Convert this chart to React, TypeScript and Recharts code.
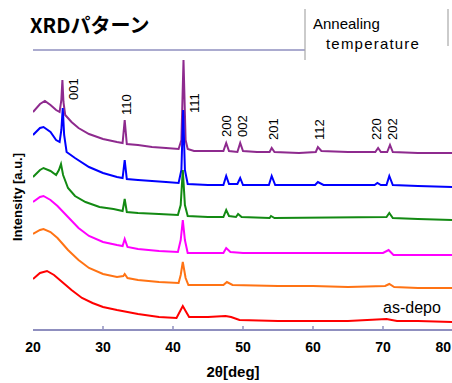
import { LineChart, Line, XAxis, YAxis, ReferenceLine, ReferenceDot } from 'recharts'

// 2θ [deg], intensity [a.u., stacked offsets]
const purple: [number, number][] = [
  [20, 218], [21, 226], [21.7, 229], [22.5, 225], [23.3, 220], [23.8, 218],
  [24.05, 230], [24.2, 250], [24.35, 228], [24.6, 215], [25.5, 208], [26.5, 202],
  [28, 196], [30, 191], [32, 188], [32.8, 187], [33.1, 210], [33.4, 186],
  [35, 185], [37, 183], [39, 182], [40.8, 181], [41.2, 190], [41.5, 270],
  [41.8, 190], [42.1, 181], [43, 179], [45, 179], [47.2, 179], [47.6, 187],
  [48, 179], [49.2, 178], [49.6, 187], [50, 179], [52, 178], [53.8, 178],
  [54.1, 182], [54.5, 178], [58, 177], [60.4, 178], [60.7, 183], [61.2, 179],
  [65, 178], [68.9, 178], [69.3, 182], [69.7, 178], [70.6, 178], [71, 185],
  [71.4, 178], [75, 177], [80, 177],
]

const blue: [number, number][] = [
  [20, 195], [21, 202], [21.5, 203], [22.5, 198], [23.3, 190], [23.8, 188],
  [24.05, 200], [24.25, 222], [24.45, 195], [24.8, 178], [26, 172], [28, 163],
  [30, 157], [32, 153], [32.8, 152], [33.1, 170], [33.4, 151], [35, 150],
  [37, 149], [39, 148], [40.8, 147], [41.2, 160], [41.45, 220], [41.7, 160],
  [42.1, 146], [45, 145], [47.2, 145], [47.6, 154], [48, 146], [49.2, 146],
  [49.6, 152], [50, 145], [53.7, 145], [54.1, 154], [54.6, 145], [60.3, 145],
  [60.7, 148], [61.5, 145], [68.8, 145], [69.2, 147], [69.7, 145], [70.5, 145],
  [70.9, 154], [71.4, 145], [75, 144], [80, 143],
]

const green: [number, number][] = [
  [20, 153], [21, 160], [21.5, 162], [22.5, 159], [23.3, 155], [23.7, 160],
  [24, 166], [24.3, 155], [25, 142], [26, 134], [27.5, 128], [29.5, 123],
  [31.5, 121], [32.8, 119], [33.1, 131], [33.4, 118], [35, 117], [38, 116],
  [40.7, 115], [41.1, 125], [41.4, 160], [41.7, 125], [42.1, 114], [45, 113],
  [47.2, 113], [47.6, 120], [48, 114], [49, 113], [49.3, 116], [49.8, 113],
  [53.8, 112], [54, 114], [54.5, 112], [70.5, 113], [70.9, 117], [71.4, 112],
  [75, 111], [80, 110],
]

const magenta: [number, number][] = [
  [20, 128], [21, 133], [21.5, 134], [22.5, 130], [23.5, 124], [25, 113],
  [26.5, 102], [28, 94], [30, 88], [32, 85], [32.8, 84], [33.1, 91],
  [33.5, 83], [35, 81], [38, 79], [40.7, 78], [41.1, 90], [41.4, 110],
  [41.7, 90], [42.1, 77], [45, 77], [47.2, 77], [47.6, 82], [48.2, 78],
  [50, 77], [60, 77], [65, 77], [70, 77], [70.8, 80], [71.5, 75],
  [75, 75], [80, 75],
]

const orange: [number, number][] = [
  [20, 96], [21, 100], [21.5, 101], [22.5, 98], [23.5, 92], [25, 80],
  [26.5, 70], [28, 62], [30, 56], [32, 53], [32.9, 54], [33.1, 56],
  [33.5, 52], [35, 50], [38, 48], [40.8, 47], [41.1, 55], [41.4, 68],
  [41.8, 52], [42.2, 45], [45, 45], [47.2, 45], [47.7, 48], [48.5, 45],
  [55, 44], [60, 44], [65, 43], [70.3, 44], [70.9, 46], [71.6, 43],
  [75, 42], [80, 42],
]

const asDepo: [number, number][] = [
  [20, 51], [21, 57], [22, 59], [23, 55], [24, 49], [25.5, 40],
  [27, 32], [28.5, 27], [30, 23], [32, 20], [35, 16], [38, 13],
  [40.5, 12], [41.1, 20], [41.4, 24], [41.8, 19], [42.3, 13], [45, 13],
  [47.5, 14], [48.3, 13], [49.5, 10], [55, 9], [60, 9], [65, 9],
  [70.5, 11], [72, 9], [75, 9], [80, 8],
]

const peakLabels = [
  { hkl: '001', x: 25.8, y: 230 },
  { hkl: '110', x: 33.4, y: 215 },
  { hkl: '111', x: 43.1, y: 217 },
  { hkl: '200', x: 47.6, y: 193 },
  { hkl: '002', x: 49.9, y: 193 },
  { hkl: '201', x: 54.3, y: 190 },
  { hkl: '112', x: 60.9, y: 190 },
  { hkl: '220', x: 69.1, y: 190 },
  { hkl: '202', x: 71.4, y: 190 },
]

const xTicks = [20, 30, 40, 50, 60, 70, 80]

// drawn first -> last (as-depo on top)
const series = [
  { name: 'T5', color: '#8e2a8e', points: purple },
  { name: 'T4', color: '#0000ff', points: blue },
  { name: 'T3', color: '#138a13', points: green },
  { name: 'T2', color: '#ff00ff', points: magenta },
  { name: 'T1', color: '#ff7314', points: orange },
  { name: 'as-depo', color: '#ff0000', points: asDepo },
]

const axisColor = '#8f8fbf'
const sans = '"Liberation Sans", Arial, sans-serif'

const toRows = (pts: [number, number][]) => pts.map(([x, y]) => ({ x, y }))

const XTick = ({ x, y, payload }: any) => {
  const last = payload.value === 80
  return (
    <g>
      {payload.value > 20 && !last && (
        <line x1={x} x2={x} y1={y} y2={y - 4} stroke={axisColor} strokeWidth={1.5} />
      )}
      <text x={last ? 451 : x} y={y + 17} textAnchor={last ? 'end' : 'middle'} dominantBaseline="central"
        fontSize={14} fontWeight="bold" fontFamily={sans} fill="#000">
        {payload.value}
      </text>
    </g>
  )
}

const peakShape = (text: string) => (props: any) => (
  <text x={props.cx} y={props.cy} transform={`rotate(-90 ${props.cx} ${props.cy})`}
    dominantBaseline="central" fontSize={13} fontFamily={sans} fill="#000">
    {text}
  </text>
)

export default function App() {
  return (
    <div style={{ position: 'absolute', left: 0, top: 0, width: 452, height: 383, overflow: 'hidden', background: '#fff' }}>
      <LineChart width={470} height={383} margin={{ top: 50, right: 17, left: 33, bottom: 23 }}>
        <XAxis type="number" dataKey="x" domain={[20, 80]} ticks={xTicks} height={30}
          allowDataOverflow stroke={axisColor} strokeWidth={2}
          tickLine={false} tickSize={0} tickMargin={0} tick={<XTick />} />
        <YAxis type="number" dataKey="y" domain={[0, 280]} width={0} tick={false}
          allowDataOverflow stroke={axisColor} strokeWidth={2} tickLine={false} />
        <ReferenceLine segment={[{ x: 20, y: 280 }, { x: 58.86, y: 280 }]} stroke={axisColor} strokeWidth={1.5} />
        {series.map((s) => (
          <Line key={s.name} data={toRows(s.points)} dataKey="y" name={s.name} type="linear"
            stroke={s.color} strokeWidth={2} dot={false} isAnimationActive={false} />
        ))}
        {peakLabels.map((p) => (
          <ReferenceDot key={p.hkl} x={p.x} y={p.y} r={0} shape={peakShape(p.hkl)} />
        ))}
      </LineChart>
      <svg width={452} height={383} style={{ position: 'absolute', left: 0, top: 0, pointerEvents: 'none' }}>
        <text x={30} y={33} fontSize={20} fontWeight="bold" fontFamily='"Noto Sans CJK JP", sans-serif' fill="#000">XRDパターン</text>
        <line x1={305} x2={305} y1={9} y2={60} stroke="#a8a8a8" strokeWidth={1.2} />
        <line x1={448} x2={448} y1={9} y2={46} stroke="#a8a8a8" strokeWidth={1.2} />
        <text x={313} y={29} fontSize={15} fontFamily={sans} fill="#000">Annealing</text>
        <text x={326} y={49} fontSize={15} letterSpacing={1.2} fontFamily={sans} fill="#000">temperature</text>
        <text x={383} y={313} fontSize={16} fontFamily={sans} fill="#000">as-depo</text>
        <text transform="translate(22 197) rotate(-90)" textAnchor="middle" fontSize={13} fontWeight="bold" fontFamily={sans} fill="#000">Intensity [a.u.]</text>
        <text x={233} y={377} textAnchor="middle" fontSize={15} fontWeight="bold" fontFamily={sans} fill="#000">2θ[deg]</text>
      </svg>
    </div>
  )
}
